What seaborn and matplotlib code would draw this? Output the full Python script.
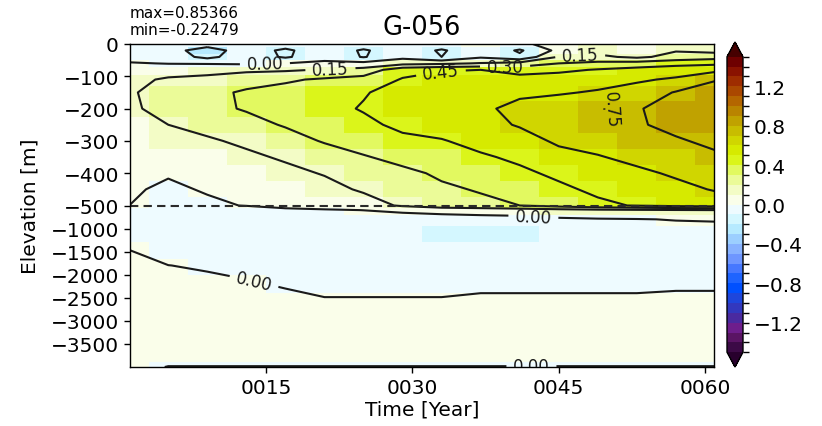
import numpy as np
import matplotlib
matplotlib.use("Agg")
import matplotlib.pyplot as plt
from matplotlib.colors import ListedColormap, BoundaryNorm
import seaborn as sns

# ---------------------------------------------------------------- data
station = "G-056"
years = [1, 5, 9, 13, 17, 21, 25, 29, 33, 37, 41, 45, 49, 53, 57, 61]
depths = [0, -20, -40, -60, -80, -110, -150, -200, -250, -300, -350, -400, -450, -500,
          -600, -800, -1100, -1500, -1800, -2200, -2600, -3000, -3500, -3800, -4000]

# temperature anomaly, one row per depth level, one column per year
anom_0 = [-0.04, -0.06, -0.08, -0.05, -0.07, -0.04, -0.06, -0.03, -0.05, 0.00, -0.03, 0.06, 0.10, 0.08, 0.12, 0.15]
anom_20 = [-0.06, -0.09, -0.22479, -0.07, -0.18, -0.05, -0.17, -0.05, -0.17, -0.03, -0.17, 0.04, 0.10, 0.02, 0.14, 0.10]
anom_40 = [-0.05, -0.07, -0.19, -0.06, -0.17, -0.05, -0.16, -0.04, -0.15, -0.02, -0.12, 0.16, 0.18, 0.12, 0.20, 0.24]
anom_60 = [0.01, -0.005, -0.01, -0.02, 0.00, 0.03, 0.04, 0.10, 0.12, 0.16, 0.20, 0.30, 0.34, 0.36, 0.40, 0.42]
anom_80 = [0.07, 0.08, 0.10, 0.12, 0.13, 0.16, 0.20, 0.40, 0.44, 0.45, 0.40, 0.42, 0.46, 0.50, 0.53, 0.56]
anom_110 = [0.11, 0.17, 0.19, 0.24, 0.28, 0.32, 0.36, 0.46, 0.50, 0.52, 0.50, 0.52, 0.56, 0.58, 0.62, 0.74]
anom_150 = [0.13, 0.22, 0.26, 0.32, 0.35, 0.40, 0.44, 0.50, 0.53, 0.56, 0.58, 0.59, 0.61, 0.66, 0.76, 0.82]
anom_200 = [0.12, 0.21, 0.27, 0.31, 0.36, 0.41, 0.46, 0.52, 0.55, 0.58, 0.63, 0.66, 0.755, 0.74, 0.80, 0.85366]
anom_250 = [0.09, 0.15, 0.20, 0.26, 0.31, 0.37, 0.42, 0.48, 0.52, 0.56, 0.61, 0.66, 0.72, 0.73, 0.80, 0.84]
anom_300 = [0.07, 0.10, 0.13, 0.18, 0.25, 0.31, 0.36, 0.42, 0.44, 0.50, 0.55, 0.62, 0.66, 0.70, 0.73, 0.79]
anom_350 = [0.05, 0.05, 0.08, 0.12, 0.17, 0.24, 0.29, 0.34, 0.38, 0.43, 0.48, 0.56, 0.59, 0.64, 0.68, 0.72]
anom_400 = [0.03, 0.01, 0.04, 0.07, 0.11, 0.16, 0.23, 0.27, 0.32, 0.37, 0.42, 0.48, 0.53, 0.57, 0.62, 0.66]
anom_450 = [0.015, -0.02, 0.01, 0.03, 0.06, 0.10, 0.17, 0.21, 0.28, 0.31, 0.36, 0.42, 0.48, 0.51, 0.56, 0.61]
anom_500 = [0.00, -0.03, -0.02, 0.005, 0.03, 0.05, 0.08, 0.17, 0.25, 0.27, 0.30, 0.36, 0.42, 0.46, 0.50, 0.52]
anom_600 = [-0.05, -0.06, -0.06, -0.06, -0.02, -0.01, 0.001, 0.02, 0.04, 0.06, 0.08, 0.10, 0.12, 0.13, 0.14, 0.15]
anom_800 = [-0.05, -0.05, -0.05, -0.05, -0.05, -0.05, -0.05, -0.05, -0.05, -0.05, -0.05, -0.02, -0.01, -0.005, 0.005, 0.01]
anom_1100 = [-0.05, -0.05, -0.05, -0.05, -0.05, -0.05, -0.06, -0.09, -0.105, -0.11, -0.108, -0.10, -0.06, -0.05, -0.05, -0.05]
anom_1500 = [0.005, -0.04, -0.05, -0.05, -0.05, -0.05, -0.05, -0.05, -0.05, -0.05, -0.05, -0.05, -0.05, -0.05, -0.05, -0.05]
anom_1800 = [0.01, 0.001, -0.01, -0.03, -0.04, -0.04, -0.04, -0.04, -0.04, -0.04, -0.04, -0.04, -0.04, -0.04, -0.04, -0.04]
anom_2200 = [0.015, 0.01, 0.02, 0.01, -0.01, -0.025, -0.025, -0.025, -0.025, -0.02, -0.02, -0.02, -0.02, -0.02, -0.015, -0.015]
anom_2600 = [0.02, 0.02, 0.02, 0.02, 0.03, 0.01, 0.01, 0.01, 0.01, 0.02, 0.02, 0.02, 0.02, 0.02, 0.025, 0.025]
anom_3000 = [0.02, 0.02, 0.02, 0.02, 0.02, 0.02, 0.02, 0.02, 0.02, 0.02, 0.02, 0.02, 0.02, 0.02, 0.02, 0.02]
anom_3500 = [0.01, 0.01, 0.01, 0.01, 0.01, 0.01, 0.01, 0.01, 0.01, 0.01, 0.01, 0.01, 0.01, 0.01, 0.01, 0.01]
anom_3800 = [0.006, 0.005, 0.005, 0.005, 0.005, 0.005, 0.005, 0.005, 0.005, 0.005, 0.005, 0.005, 0.005, 0.005, 0.005, 0.005]
anom_4000 = [0.005, -0.0005, -0.0005, -0.0005, -0.0005, -0.0005, -0.0005, -0.0005, -0.0005, -0.0005, -0.0005, -0.0005, -0.0005, -0.0005, -0.0005, -0.0005]

year_ticks = [15, 30, 45, 60]
depth_ticks = [0, -100, -200, -300, -400, -500, -1000, -1500, -2000, -2500, -3000, -3500]
cbar_ticks = [-1.2, -0.8, -0.4, 0.0, 0.4, 0.8, 1.2]

# one colour per 0.1 band from -1.5 to 1.5
band_colors = [
    "#3c0a46", "#5a1464", "#6e1e8c", "#4a2aa0", "#3238be", "#1e46dc",
    "#0050ff", "#1e64ff", "#4678ff", "#6e96ff", "#88b2ff", "#9ccfff",
    "#b6eaff", "#d4f7ff", "#eefbff", "#fafeea", "#f3fcc6", "#ebfb98",
    "#e2f960", "#dbf51a", "#d6ea00", "#d0d600", "#c8bd00", "#c0a200",
    "#b98400", "#b46600", "#aa4800", "#9e2c00", "#8a1200", "#6e0000",
]

anomaly = np.array([
    anom_0, anom_20, anom_40, anom_60, anom_80, anom_110, anom_150, anom_200,
    anom_250, anom_300, anom_350, anom_400, anom_450, anom_500, anom_600,
    anom_800, anom_1100, anom_1500, anom_1800, anom_2200, anom_2600,
    anom_3000, anom_3500, anom_3800, anom_4000,
])

# ---------------------------------------------------------------- style
sns.set_theme(style="ticks", rc={
    "axes.edgecolor": "black",
    "axes.labelcolor": "black",
    "text.color": "black",
    "xtick.color": "black",
    "ytick.color": "black",
    "xtick.direction": "out",
    "ytick.direction": "out",
    "axes.linewidth": 1.0,
})
plt.rcParams["font.family"] = ["DejaVu Sans"]

palette = sns.color_palette(band_colors)
cmap = ListedColormap(palette)
cmap.set_over("#460000")
cmap.set_under("#28002d")
bounds = np.round(np.arange(-15, 16) * 0.1, 2) + 0.0
norm = BoundaryNorm(bounds, cmap.N)


# upper 500 m and the deep ocean each take half of the vertical axis
def to_axis(d):
    d = np.asarray(d, dtype=float)
    return np.where(d >= -500.0, d / 500.0, -1.0 + (d + 500.0) / 3500.0)


def from_axis(u):
    u = np.asarray(u, dtype=float)
    return np.where(u >= -1.0, u * 500.0, -500.0 + (u + 1.0) * 3500.0)


fig = plt.figure(figsize=(8.22, 4.27), dpi=100)
ax = fig.add_axes([130 / 822, 1 - 368 / 427, 584 / 822, 323 / 427])
cax = fig.add_axes([727 / 822, 1 - 368 / 427, 16 / 822, 325 / 427])

ax.set_yscale("function", functions=(to_axis, from_axis))

mesh = ax.pcolormesh(years, depths, anomaly, cmap=cmap, norm=norm, shading="nearest")

# contour every 0.15; zero is kept as +0.0 so its label reads 0.00
levels = np.round(np.arange(-10, 11) * 0.15, 2) + 0.0
cs = ax.contour(years, depths, anomaly, levels=levels, colors="k",
                linewidths=1.5, negative_linestyles="solid")

label_spots = [(14.9, -62), (21.6, -71), (32.9, -83), (39.5, -71), (47.2, -40),
               (51.7, -216), (42.4, -740), (14.0, -1970), (42.2, -3950)]
ax.clabel(cs, manual=label_spots, fmt=lambda v: f"{abs(v) if abs(v) < 1e-9 else v:.2f}",
          fontsize=12, inline=True)

ax.axhline(-500, color="#2a2a2a", ls=(0, (4, 2.5)), lw=1.5)

ax.set_xlim(1.08, 60.9)
ax.set_ylim(-4000, 0)
ax.set_xticks(year_ticks)
ax.set_xticklabels([f"{y:04d}" for y in year_ticks])
ax.set_yticks(depth_ticks)
ax.set_yticklabels([f"{d}".replace("-", "\u2212") for d in depth_ticks])
ax.tick_params(labelsize=14.5, length=4.5, width=1.0)
ax.set_xlabel("Time [Year]", fontsize=14.5, labelpad=2)
ax.set_ylabel("Elevation [m]", fontsize=14.5, labelpad=8)
ax.set_title(station, fontsize=18.5, pad=7)
ax.annotate(f"max={anomaly.max():.5f}\nmin={anomaly.min():.5f}",
            xy=(0, 1), xycoords="axes fraction", xytext=(0, 5),
            textcoords="offset points", ha="left", va="bottom",
            fontsize=11, linespacing=1.15)

cb = fig.colorbar(mesh, cax=cax, extend="both", ticks=cbar_ticks)
cb.ax.set_yticklabels([f"{t:.1f}".replace("-", "\u2212") for t in cbar_ticks])
cb.ax.tick_params(labelsize=14.5, length=4.5, width=1.0)
cb.outline.set_linewidth(1.0)

fig.savefig("out.png", dpi=100)
